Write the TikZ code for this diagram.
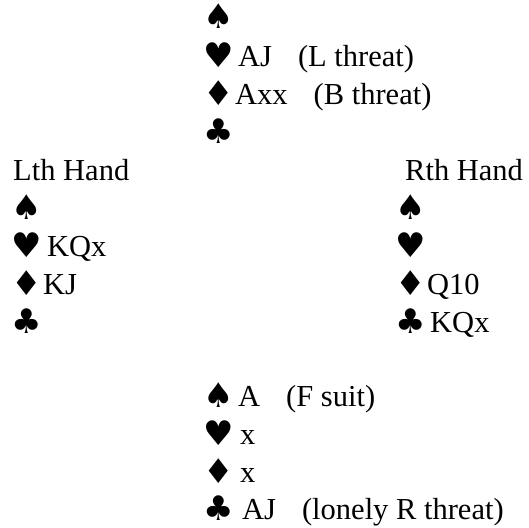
\documentclass[tikz,border=0pt]{standalone}
\usepackage{fontspec}
\setmainfont{Liberation Serif}
\newfontfamily\suitfont{DejaVu Sans}
\begin{document}
\begin{tikzpicture}[x=1pt,y=1pt,
  txt/.style={anchor=base west, inner sep=0pt, font=\fontsize{30.5}{36}\selectfont},
  suitsym/.style={anchor=base west, inner sep=0pt, yshift=-1pt, font=\suitfont\fontsize{34}{40}\selectfont}]
\useasboundingbox (0,0) rectangle (529,-527);
\def\gap{\hspace{26pt}}
% top hand
\node[suitsym] (ts) at (203,-28) {♠};
\node[suitsym] (th) at (203,-66) {♥};
\node[txt] (tht) at (238,-66) {AJ\gap(L threat)};
\node[suitsym] (td) at (203,-104) {♦};
\node[txt] (tdt) at (235,-104) {Axx\gap(B threat)};
\node[suitsym] (tc) at (203,-142) {♣};
% left hand
\node[txt] (lt) at (13,-180) {Lth Hand};
\node[suitsym] (ls) at (11,-218) {♠};
\node[suitsym] (lh) at (11,-256) {♥};
\node[txt] (lht) at (47,-256) {KQx};
\node[suitsym] (ld) at (11,-294) {♦};
\node[txt] (ldt) at (43,-294) {KJ};
\node[suitsym] (lc) at (11,-332) {♣};
% right hand
\node[txt] (rt) at (405,-180) {Rth Hand};
\node[suitsym] (rs) at (395,-218) {♠};
\node[suitsym] (rh) at (395,-256) {♥};
\node[suitsym] (rd) at (395,-294) {♦};
\node[txt] (rdt) at (427,-294) {Q10};
\node[suitsym] (rc) at (395,-332) {♣};
\node[txt] (rct) at (430,-332) {KQx};
% bottom hand
\node[suitsym] (bs) at (203,-406) {♠};
\node[txt] (bst) at (238,-406) {A\gap(F suit)};
\node[suitsym] (bh) at (203,-444) {♥};
\node[txt] (bht) at (240,-444) {x};
\node[suitsym] (bd) at (203,-482) {♦};
\node[txt] (bdt) at (240,-482) {x};
\node[suitsym] (bc) at (203,-519) {♣};
\node[txt] (bct) at (242,-519) {AJ\gap(lonely R threat)};
\end{tikzpicture}
\end{document}
